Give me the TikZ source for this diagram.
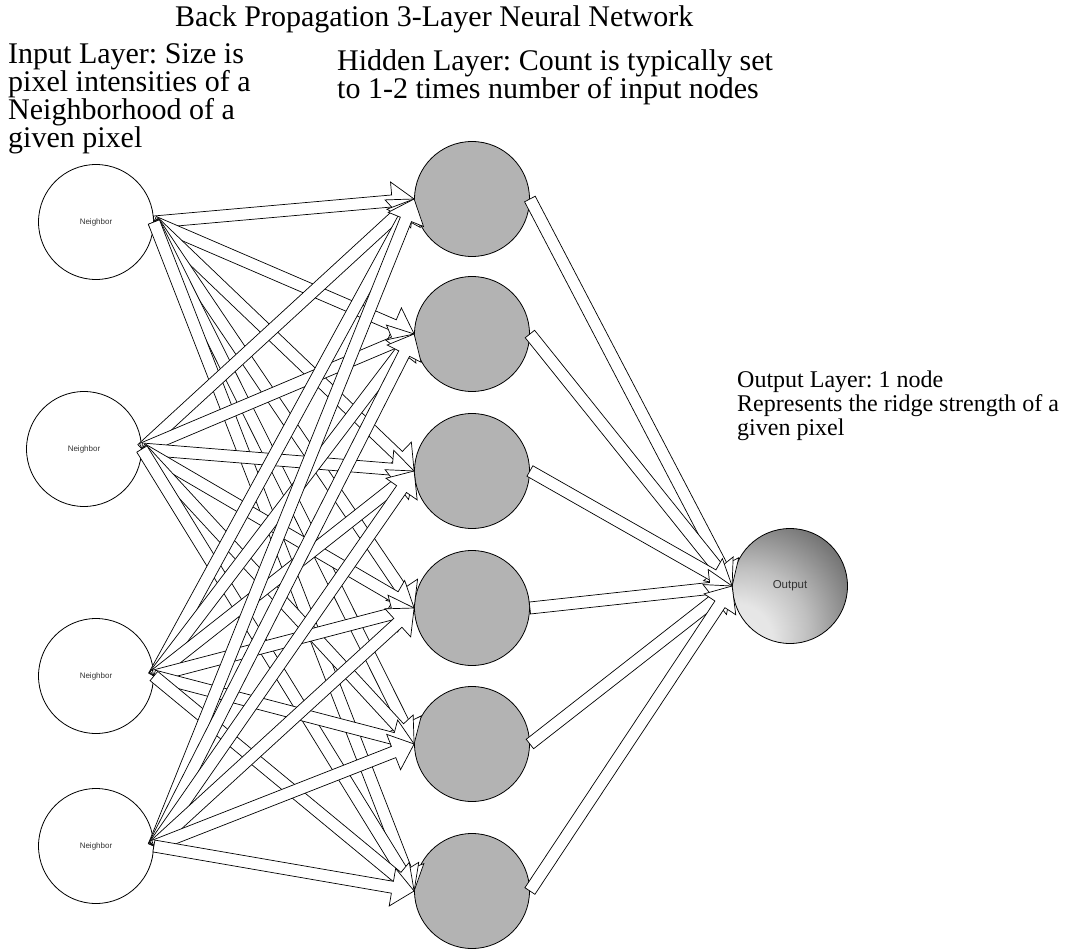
\documentclass[tikz,border=0pt]{standalone}
\usepackage{fontspec}
\setmainfont{Liberation Serif}
\setsansfont{Liberation Sans}
\frenchspacing
\usetikzlibrary{calc}
\definecolor{hidGray}{HTML}{B3B3B3}
\definecolor{inkN}{HTML}{333333}
\pgfdeclareradialshading{outShade}{\pgfpoint{-28bp}{-28bp}}{%
  color(0bp)=(black!8); color(16bp)=(black!10); color(28bp)=(black!25);
  color(42bp)=(black!48); color(53bp)=(black!66); color(64bp)=(black!88);
  color(100bp)=(black!90)}
\def\fatShaft{6pt}
\def\fatHead{19pt}
\def\fatHeadLen{22pt}
% hollow block arrow from #1 to #2
\newcommand{\fatArrow}[2]{%
  \path (#1) coordinate (fa-s) (#2) coordinate (fa-e);
  \coordinate (fa-h) at ($(fa-e)!\fatHeadLen!(fa-s)$);
  \draw[fatarrow] ($(fa-s)!\fatShaft!90:(fa-e)$)
    -- ($(fa-h)!\fatShaft!90:(fa-e)$) -- ($(fa-h)!\fatHead!90:(fa-e)$)
    -- (fa-e)
    -- ($(fa-h)!\fatHead!-90:(fa-e)$) -- ($(fa-h)!\fatShaft!-90:(fa-e)$)
    -- ($(fa-s)!\fatShaft!-90:(fa-e)$) -- cycle;}
\tikzset{
  neuron/.style={circle, draw=black, line width=0.8pt, minimum size=115pt,
                 inner sep=0pt},
  inneuron/.style={neuron, fill=white, text=inkN,
                   font=\sffamily\fontsize{8}{9}\selectfont},
  hidneuron/.style={neuron, fill=hidGray},
  outneuron/.style={neuron, shade, shading=outShade, text=inkN,
                    font=\sffamily\fontsize{11.5}{13}\selectfont},
  fatarrow/.style={draw=black, fill=white, line width=0.7pt},
  layerlab/.style={font=\fontsize{30}{28}\selectfont, align=left,
                   anchor=base west, inner sep=0pt},
  outlab/.style={layerlab, font=\fontsize{24}{24}\selectfont},
}

\begin{document}
\begin{tikzpicture}[x=1pt, y=-1pt]
  \useasboundingbox (0,0) rectangle (1070,949);
  % labels, anchored at the baseline of their last line
  \node[layerlab] (title) at (175,27) {Back Propagation 3-Layer Neural Network};
  \node[layerlab] (inlab) at (8,148)
    {Input Layer: Size is\\pixel intensities of a\\Neighborhood of a\\given pixel};
  \node[layerlab] (hidlab) at (337,99)
    {Hidden Layer: Count is typically set\\to 1-2 times number of input nodes};
  \node[outlab] (outlab) at (737,435)
    {Output Layer: 1 node\\Represents the ridge strength of a\\given pixel};

  % input layer
  \node[inneuron] (in1) at (96,222) {Neighbor};
  \node[inneuron] (in2) at (84,449) {Neighbor};
  \node[inneuron] (in3) at (96,676) {Neighbor};
  \node[inneuron] (in4) at (96,846) {Neighbor};
  % hidden layer
  \foreach \j/\y in {1/199, 2/334, 3/471, 4/608, 5/744, 6/891}
    \node[hidneuron] (hid\j) at (472,\y) {};
  % output layer
  \node[outneuron] (out) at (790,586) {Output};

  \foreach \i in {1,...,4}
    \foreach \j in {1,...,6}
      \fatArrow{in\i.east}{hid\j.west};
  \foreach \j in {1,...,6}
    \fatArrow{hid\j.east}{out.west};
\end{tikzpicture}
\end{document}
